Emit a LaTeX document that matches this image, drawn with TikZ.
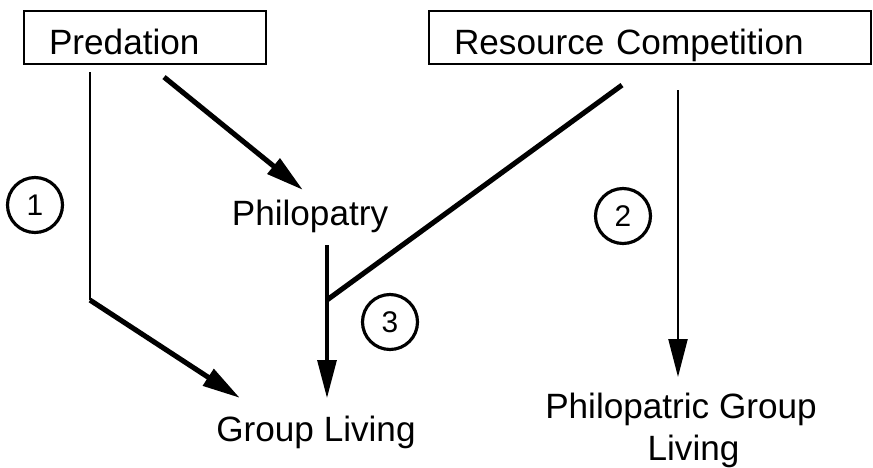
\documentclass[tikz,border=0pt]{standalone}
\usepackage{fontspec}
\setmainfont{Liberation Sans}
\usepackage{tikz}
\usetikzlibrary{arrows.meta,positioning,calc}

\begin{document}
\begin{tikzpicture}[
  x=0.02cm, y=-0.02cm,
  font=\fontsize{20}{24}\selectfont,
  cause/.style={rectangle, draw, line width=1.2pt, anchor=north west, align=left, inner xsep=0.5cm, inner ysep=0pt, text height=0.86cm, text depth=0.2cm},
  effect/.style={inner sep=0pt, align=center},
  number/.style={circle, draw, line width=1.8pt, minimum size=1.1cm, inner sep=0pt, font=\fontsize{17}{20}\selectfont},
  link/.style={line width=2.9pt},
  thinlink/.style={line width=1.5pt},
  tip/.style={-{Triangle[length=0.76cm, width=0.38cm]}}
]
  \useasboundingbox (0,0) rectangle (873,467);

  % Causes (boxes)
  \node[cause, text width=3.84cm] (pred) at (23,10) {Predation};
  \node[cause, text width=7.84cm] (rc) at (428,10) {Resource Competition};

  % Outcomes
  \node[effect, anchor=base] (phil) at (310,225) {Philopatry};
  \node[effect, anchor=base] (group) at (316,441) {Group Living};
  \node[effect, anchor=north] (pgl) at (681,393) {Philopatric Group\\ \hspace*{0.5cm}Living};

  % Numbered pathways
  \node[number] (n1) at (35,205) {1};
  \node[number] (n2) at (623,216) {2};
  \node[number] (n3) at (390,322) {3};

  % Bends and junction
  \coordinate (bend1) at ($(pred.south west)+(67,235)$);
  \coordinate (join3) at ($(phil.base)+(17,75)$);

  % Pathway 1
  \draw[thinlink] ($(pred.south west)+(67,7)$) -- (bend1);
  \draw[link, tip] (bend1) -- ($(group.base)+(-76,-43)$);
  \draw[link, tip] ($(pred.south)+(19,12)$) -- ($(phil.base)+(-7,-35)$);

  % Pathway 3
  \draw[line width=1.8pt, tip] ($(phil.base)+(17,20)$) -- ($(group.base)+(11,-43)$);
  \draw[link] ($(rc.south west)+(194,20)$) -- (join3);

  % Pathway 2
  \draw[line width=1.3pt, tip] ($(rc.south west)+(250,25)$) -- ($(pgl.north)+(-3,-16)$);
\end{tikzpicture}
\end{document}
